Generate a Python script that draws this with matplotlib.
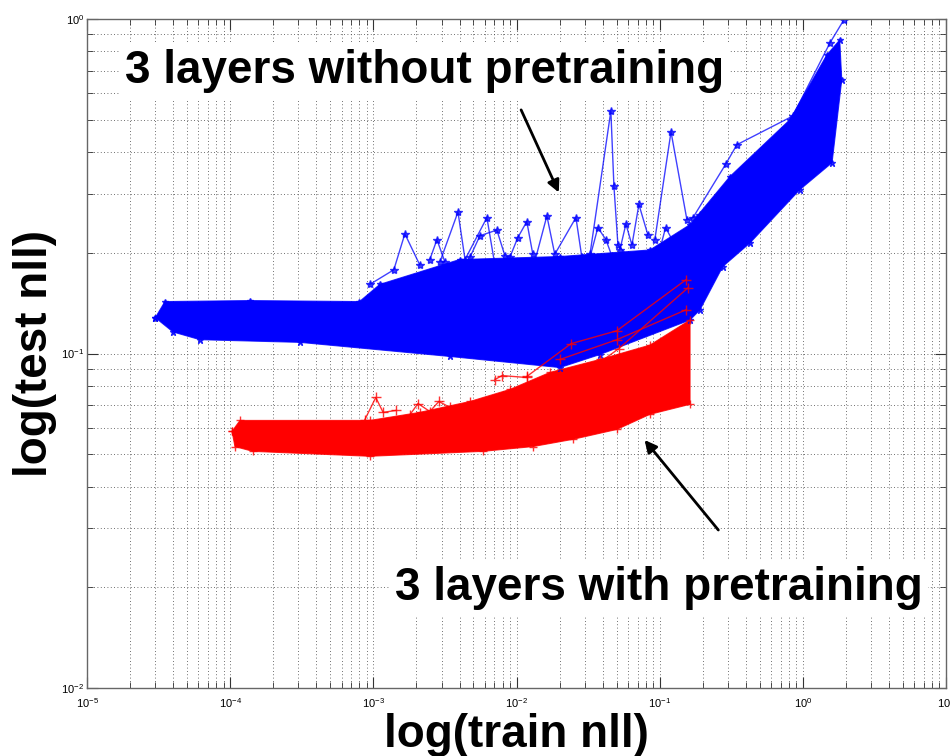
import numpy as np
import matplotlib
matplotlib.use('Agg')
import matplotlib.pyplot as plt

plt.rcParams['font.family'] = ['Liberation Sans', 'DejaVu Sans']
plt.rcParams['mathtext.fontset'] = 'custom'
plt.rcParams['mathtext.rm'] = 'Liberation Sans'

# outline of the dense blue cloud (3 layers, no pretraining), (train nll, test nll)
blue_band_x = [3.0e-5, 3.5e-5, 1.37e-4, 8.0e-4, 1.11e-3, 4.0e-3, 0.0201, 0.0855, 0.163, 0.309,
               0.811, 1.47, 1.81, 1.87, 1.60, 0.953, 0.427, 0.276, 0.191, 0.163,
               0.0382, 0.0201, 3.43e-3, 3.07e-4, 6.15e-5, 3.99e-5]
blue_band_y = [0.128, 0.143, 0.144, 0.143, 0.161, 0.191, 0.195, 0.204, 0.243, 0.338,
               0.500, 0.781, 0.866, 0.658, 0.372, 0.309, 0.214, 0.182, 0.135, 0.126,
               0.0993, 0.0908, 0.098, 0.108, 0.110, 0.116]

# outline of the dense red cloud (3 layers, with pretraining)
red_band_x = [1.03e-4, 1.17e-4, 9.46e-4, 2.11e-3, 4.73e-3, 8.99e-3, 0.0171, 0.0382, 0.0855, 0.163,
              0.163, 0.0855, 0.0502, 0.0248, 0.0130, 5.82e-3, 9.46e-4, 1.44e-4, 1.08e-4]
red_band_y = [0.0585, 0.0631, 0.0631, 0.0667, 0.0719, 0.0781, 0.0878, 0.0960, 0.106, 0.126,
              0.0705, 0.0658, 0.0593, 0.0554, 0.0527, 0.0510, 0.0493, 0.0510, 0.0527]

# individual blue runs sticking out of the cloud
blue_runs_x = [
    [0.0326, 0.0456, 0.0479, 0.0511, 0.0728],
    [0.0925, 0.120, 0.155, 0.191],
    [0.171, 0.290, 0.346, 0.851, 1.545, 1.93],
    [2.92e-3, 3.90e-3, 4.37e-3, 6.21e-3, 7.06e-3],
    [0.0134, 0.0163, 0.0185, 0.0260, 0.0286],
    [0.0527, 0.0581, 0.064, 0.0716, 0.0828],
    [9.46e-4, 1.39e-3, 1.66e-3, 2.11e-3],
    [8.99e-3, 0.0102, 0.0118, 0.0130],
    [4.73e-3, 5.55e-3, 7.29e-3, 8.30e-3],
    [0.0326, 0.0370, 0.0421, 0.0463],
    [2.48e-3, 2.78e-3, 3.16e-3],
    [0.100, 0.110, 0.128],
]
blue_runs_y = [
    [0.198, 0.531, 0.317, 0.211, 0.178],
    [0.219, 0.460, 0.251, 0.260],
    [0.255, 0.369, 0.421, 0.513, 0.848, 0.993],
    [0.188, 0.265, 0.191, 0.255, 0.184],
    [0.188, 0.258, 0.198, 0.255, 0.194],
    [0.204, 0.244, 0.211, 0.279, 0.226],
    [0.161, 0.178, 0.228, 0.184],
    [0.194, 0.222, 0.248, 0.198],
    [0.194, 0.225, 0.234, 0.196],
    [0.194, 0.238, 0.219, 0.196],
    [0.191, 0.219, 0.188],
    [0.204, 0.238, 0.211],
]

# individual red runs sticking out of the cloud
red_runs_x = [
    [0.152, 0.0502, 0.0240, 0.0118],
    [0.157, 0.0519, 0.0326],
    [0.152, 0.0502, 0.0201],
    [8.73e-4, 1.04e-3, 1.17e-3, 1.44e-3],
    [1.80e-3, 2.05e-3, 2.48e-3, 2.87e-3, 3.43e-3],
    [7.06e-3, 7.91e-3, 0.0118],
]
red_runs_y = [
    [0.166, 0.117, 0.107, 0.0854],
    [0.157, 0.1035, 0.0896],
    [0.135, 0.110, 0.096],
    [0.0635, 0.0739, 0.0667, 0.0676],
    [0.0656, 0.0709, 0.0671, 0.0719, 0.069],
    [0.0836, 0.0859, 0.0848],
]

fig = plt.figure(figsize=(9.5, 7.56), dpi=100)
ax = fig.add_axes([0.0916, 0.0899, 0.9042, 0.8849])
ax.set_xscale('log')
ax.set_yscale('log')

# blue
ax.fill(blue_band_x, blue_band_y, color='blue', lw=0)
ax.plot(blue_band_x + blue_band_x[:1], blue_band_y + blue_band_y[:1], '-*',
        color='blue', lw=0.8, ms=5, alpha=0.8)
for xs, ys in zip(blue_runs_x, blue_runs_y):
    ax.plot(xs, ys, '-*', color='blue', lw=1, ms=6, alpha=0.75)

# red
ax.fill(red_band_x, red_band_y, color='red', lw=0)
ax.plot(red_band_x + red_band_x[:1], red_band_y + red_band_y[:1], '-+',
        color='red', lw=0.8, ms=6, alpha=0.8)
for xs, ys in zip(red_runs_x, red_runs_y):
    ax.plot(xs, ys, '-+', color='red', lw=1, ms=7, alpha=0.8)

ax.set_xlim(1e-5, 1e1)
ax.set_ylim(1e-2, 1e0)

ax.grid(True, which='both', linestyle=(0, (1, 3)), color='0.25', lw=0.6)
ax.set_axisbelow(True)
ax.tick_params(which='both', direction='in', top=True, right=True,
               labelsize=8, color='0.2')
ax.tick_params(which='major', length=8)
ax.tick_params(which='minor', length=4)
ax.tick_params(axis='x', which='both', pad=6)
ax.tick_params(axis='y', which='both', pad=2)
for s in ax.spines.values():
    s.set_color('0.4')
    s.set_linewidth(1)

ax.set_xlabel('log(train nll)', fontsize=33, fontweight='bold', va='baseline')
ax.xaxis.set_label_coords(0.5, (688 - 747) / 669)
ax.set_ylabel('log(test nll)', fontsize=33, fontweight='bold', va='baseline')
ax.yaxis.set_label_coords((47 - 87) / 859, 0.5)

ax.text(0.0442, 0.904, '3 layers without pretraining', transform=ax.transAxes,
        fontsize=33, fontweight='bold', va='baseline', ha='left',
        bbox=dict(facecolor='white', edgecolor='none', pad=4), zorder=5)
ax.text(0.3586, 0.1315, '3 layers with pretraining', transform=ax.transAxes,
        fontsize=33, fontweight='bold', va='baseline', ha='left',
        bbox=dict(facecolor='white', edgecolor='none', pad=4), zorder=5)

ax.annotate('', xy=(0.5506, 0.737), xytext=(0.504, 0.868), xycoords='axes fraction',
            arrowprops=dict(arrowstyle='-|>', color='black', lw=2, mutation_scale=18))
ax.annotate('', xy=(0.647, 0.374), xytext=(0.737, 0.233), xycoords='axes fraction',
            arrowprops=dict(arrowstyle='-|>', color='black', lw=2, mutation_scale=18))

fig.savefig('out.png', dpi=100)
